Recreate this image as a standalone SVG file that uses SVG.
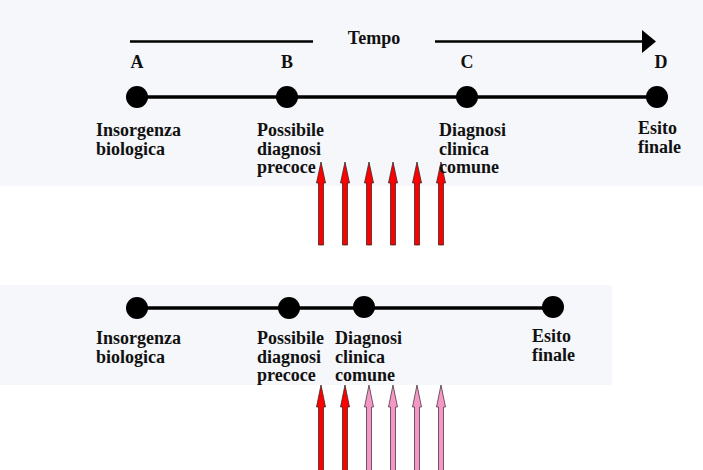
<svg xmlns="http://www.w3.org/2000/svg" xmlns:xlink="http://www.w3.org/1999/xlink" width="703" height="470" viewBox="0 0 703 470">
<style>
.lbl{font-family:"Liberation Serif","Times New Roman",serif;font-weight:bold;font-size:18px;fill:#111;}
.dot{fill:#000;}
.line{stroke:#000;stroke-width:3.5;fill:none;}
.tline{stroke:#000;stroke-width:2.5;fill:none;}
.red{fill:#ff0000;stroke:#3a2a2a;stroke-width:0.8;}
.pink{fill:#f598c8;stroke:#4a3a40;stroke-width:0.8;}
</style>
<defs>
<path id="arrTop" d="M0,0 L4.5,21 L2.5,21 L2.5,83 L-2.5,83 L-2.5,21 L-4.5,21 Z"/>
<path id="arrBot" d="M0,0 L4.5,22 L2.5,22 L2.5,90 L-2.5,90 L-2.5,22 L-4.5,22 Z"/>
</defs>
<rect x="0" y="0" width="703" height="470" fill="#ffffff"/>
<rect x="0" y="0" width="703" height="186" fill="#f6f7fa"/>
<rect x="0" y="285" width="612" height="100" fill="#f6f7fa"/>

<g id="connectors">
  <line class="tline" x1="130" y1="41.5" x2="313" y2="41.5"/>
  <line class="tline" x1="435" y1="41.5" x2="645" y2="41.5"/>
  <polygon points="642,30 656,41.5 642,53" fill="#000"/>
  <line class="line" x1="137" y1="97" x2="657" y2="97"/>
  <line class="line" x1="137" y1="308" x2="553" y2="308"/>
  <g id="arrows-top">
    <use xlink:href="#arrTop" class="red" x="321" y="162"/>
    <use xlink:href="#arrTop" class="red" x="345" y="162"/>
    <use xlink:href="#arrTop" class="red" x="369" y="162"/>
    <use xlink:href="#arrTop" class="red" x="393" y="162"/>
    <use xlink:href="#arrTop" class="red" x="417" y="162"/>
    <use xlink:href="#arrTop" class="red" x="441" y="162"/>
  </g>
  <g id="arrows-bottom">
    <use xlink:href="#arrBot" class="red" x="321" y="385"/>
    <use xlink:href="#arrBot" class="red" x="345" y="385"/>
    <use xlink:href="#arrBot" class="pink" x="369" y="385"/>
    <use xlink:href="#arrBot" class="pink" x="393" y="385"/>
    <use xlink:href="#arrBot" class="pink" x="417" y="385"/>
    <use xlink:href="#arrBot" class="pink" x="441" y="385"/>
  </g>
</g>

<text class="lbl" x="374" y="43.5" text-anchor="middle">Tempo</text>

<g id="nodeA">
  <text class="lbl" x="137" y="67.5" text-anchor="middle">A</text>
  <circle class="dot" cx="137" cy="97" r="11"/>
  <text class="lbl" x="96" y="136">Insorgenza</text>
  <text class="lbl" x="96" y="154.5">biologica</text>
</g>
<g id="nodeB">
  <text class="lbl" x="287" y="67.5" text-anchor="middle">B</text>
  <circle class="dot" cx="287" cy="97" r="11"/>
  <text class="lbl" x="257" y="136">Possibile</text>
  <text class="lbl" x="257" y="154.5">diagnosi</text>
  <text class="lbl" x="257" y="173">precoce</text>
</g>
<g id="nodeC">
  <text class="lbl" x="467" y="67.5" text-anchor="middle">C</text>
  <circle class="dot" cx="467" cy="97" r="11"/>
  <text class="lbl" x="439" y="136">Diagnosi</text>
  <text class="lbl" x="439" y="154.5">clinica</text>
  <text class="lbl" x="439" y="173">comune</text>
</g>
<g id="nodeD">
  <text class="lbl" x="661" y="67.5" text-anchor="middle">D</text>
  <circle class="dot" cx="657" cy="97" r="11"/>
  <text class="lbl" x="638" y="134">Esito</text>
  <text class="lbl" x="638" y="152.5">finale</text>
</g>

<g id="nodeA2">
  <circle class="dot" cx="137" cy="308" r="11"/>
  <text class="lbl" x="96" y="344">Insorgenza</text>
  <text class="lbl" x="96" y="362.5">biologica</text>
</g>
<g id="nodeB2">
  <circle class="dot" cx="289" cy="308" r="11"/>
  <text class="lbl" x="257" y="344">Possibile</text>
  <text class="lbl" x="257" y="362.5">diagnosi</text>
  <text class="lbl" x="257" y="381">precoce</text>
</g>
<g id="nodeC2">
  <circle class="dot" cx="364" cy="307" r="11"/>
  <text class="lbl" x="335" y="344">Diagnosi</text>
  <text class="lbl" x="335" y="362.5">clinica</text>
  <text class="lbl" x="335" y="381">comune</text>
</g>
<g id="nodeD2">
  <circle class="dot" cx="553" cy="307" r="11"/>
  <text class="lbl" x="532" y="342">Esito</text>
  <text class="lbl" x="532" y="360.5">finale</text>
</g>
</svg>
